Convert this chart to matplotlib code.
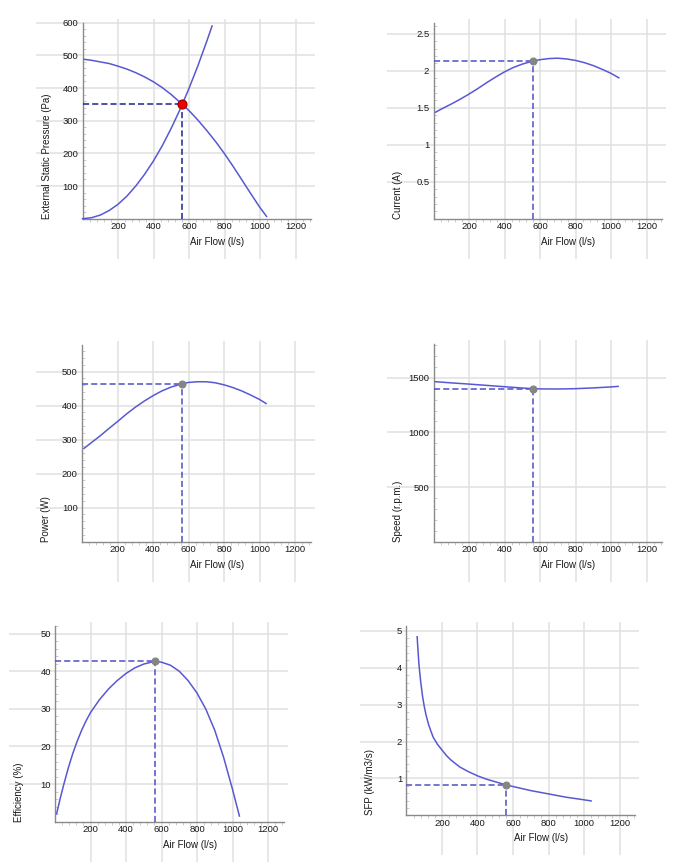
import numpy as np
import matplotlib
matplotlib.use('Agg')
import matplotlib.pyplot as plt

plt.rcParams['font.family'] = ['Liberation Sans', 'DejaVu Sans']

# fan curve and system curve (l/s, Pa)
fan_flow = [8, 50, 100, 150, 200, 250, 300, 350, 400, 450, 500, 550, 562, 600, 650, 700, 750, 800, 850, 900, 950, 1000, 1037]
fan_pressure = [488, 485, 480, 475, 467, 458, 447, 434, 419, 401, 380, 356, 350, 331, 302, 270, 236, 199, 159, 117, 75, 34, 7]
sys_flow = [0, 50, 100, 150, 200, 250, 300, 350, 400, 450, 500, 550, 562, 600, 650, 700, 730]
sys_pressure = [0, 3, 11, 25, 44, 69, 100, 136, 177, 224, 277, 335, 350, 399, 468, 543, 590]

cur_flow = [12, 50, 100, 150, 200, 250, 300, 350, 400, 450, 500, 550, 562, 600, 650, 700, 750, 800, 850, 900, 950, 1000, 1044]
current = [1.44, 1.49, 1.55, 1.615, 1.685, 1.76, 1.84, 1.915, 1.985, 2.045, 2.09, 2.125, 2.13, 2.15, 2.165, 2.17, 2.16, 2.14, 2.11, 2.07, 2.02, 1.965, 1.905]

pow_flow = [11, 50, 100, 150, 200, 250, 300, 350, 400, 450, 500, 550, 562, 600, 650, 700, 750, 800, 850, 900, 950, 1000, 1037]
power = [274, 290, 310, 332, 353, 375, 395, 413, 429, 443, 454, 462, 464, 468, 470, 470, 467, 461, 453, 443, 431, 418, 406]

spd_flow = [10, 100, 200, 300, 400, 500, 562, 600, 700, 800, 900, 1000, 1040]
speed = [1464, 1453, 1442, 1430, 1418, 1406, 1400, 1398, 1397, 1400, 1407, 1416, 1421]

eff_flow = [9, 30, 50, 75, 100, 125, 150, 175, 200, 250, 300, 350, 400, 450, 500, 550, 562, 600, 650, 700, 750, 800, 850, 900, 950, 1000, 1039]
efficiency = [2.1, 6.3, 10.0, 14.3, 18.1, 21.4, 24.3, 26.8, 29.0, 32.4, 35.2, 37.5, 39.4, 40.9, 41.9, 42.5, 42.6, 42.4, 41.6, 40.0, 37.5, 34.2, 29.9, 24.3, 17.1, 8.6, 1.5]

sfp_flow = [60, 65, 70, 75, 80, 90, 100, 110, 125, 140, 150, 175, 200, 225, 250, 300, 350, 400, 450, 500, 562, 600, 700, 800, 900, 1000, 1040]
sfp = [4.84, 4.45, 4.1, 3.85, 3.62, 3.24, 2.95, 2.72, 2.45, 2.25, 2.12, 1.92, 1.77, 1.62, 1.5, 1.31, 1.18, 1.07, 0.98, 0.91, 0.82, 0.78, 0.67, 0.58, 0.49, 0.42, 0.39]

# duty point
duty_flow = 562
duty_pressure = 350
duty_current = 2.13
duty_power = 464
duty_speed = 1400
duty_eff = 42.6
duty_sfp = 0.82

x_ticks = [200, 400, 600, 800, 1000, 1200]

W, H = 686, 867
fig = plt.figure(figsize=(W / 100, H / 100), dpi=100)

CURVE = '#5858d4'
GRID = '#e0e0e0'
SPINE = '#8a8a8a'
TXT = '#1a1a1a'
PT = 72 / 100


def panel(x0, y0, ytop, ymax, yticks, ylabels, ylabel, minor_step):
    sx = 0.1775
    sy = (y0 - ytop) / ymax
    left, right = x0 - 46.5, x0 + 232.5
    top, bottom = ytop - 4, y0 + 40
    ax = fig.add_axes([left / W, 1 - bottom / H, (right - left) / W, (bottom - top) / H])
    ax.set_xlim((left - x0) / sx, (right - x0) / sx)
    ax.set_ylim(-(bottom - y0) / sy, (y0 - top) / sy)
    for s in ['top', 'right']:
        ax.spines[s].set_visible(False)
    for s in ['left', 'bottom']:
        ax.spines[s].set_position(('data', 0))
        ax.spines[s].set_color(SPINE)
        ax.spines[s].set_linewidth(1)
    ax.spines['left'].set_bounds(0, ymax)
    ax.spines['bottom'].set_bounds(0, 1290)
    ax.set_xticks(x_ticks)
    ax.set_xticklabels([str(t) for t in x_ticks])
    ax.set_yticks(yticks)
    ax.set_yticklabels(ylabels)
    ax.set_xticks(np.arange(40, 1290, 40), minor=True)
    ax.set_yticks(np.arange(minor_step, ymax, minor_step), minor=True)
    ax.tick_params(which='major', length=0, labelsize=6.8, labelcolor=TXT)
    ax.tick_params(axis='x', which='major', pad=2.5)
    ax.tick_params(axis='y', which='major', pad=3)
    ax.tick_params(axis='x', which='minor', direction='out', length=2.5, color='#c4c4c4')
    ax.tick_params(axis='y', which='minor', direction='in', length=2.5, color='#c4c4c4')
    ax.grid(True, which='major', color=GRID, lw=1.1)
    ax.set_axisbelow(True)
    ax.annotate('Air Flow (l/s)', xy=(760, 0), xycoords='data', xytext=(0, -23 * PT),
                textcoords='offset points', ha='center', va='center', fontsize=7, color=TXT)
    ax.annotate(ylabel, xy=(0, 0), xycoords='data', xytext=(-36 * PT, 0),
                textcoords='offset points', ha='center', va='bottom', rotation=90,
                fontsize=7, color=TXT)
    return ax


def duty(ax, yv, dash_color, dot_color, dot_edge, ms):
    ax.plot([0, duty_flow], [yv, yv], ls=(0, (4, 2)), color=dash_color, lw=1.1, zorder=3)
    ax.plot([duty_flow, duty_flow], [0, yv], ls=(0, (4, 2)), color=dash_color, lw=1.1, zorder=3)
    ax.plot([duty_flow], [yv], 'o', ms=ms, color=dot_color, mec=dot_edge, mew=0.8, zorder=5)


ax1 = panel(82.5, 218.7, 22.7, 600, [100, 200, 300, 400, 500, 600],
            ['100', '200', '300', '400', '500', '600'], 'External Static Pressure (Pa)', 20)
ax1.plot(fan_flow, fan_pressure, color=CURVE, lw=1.1, zorder=4)
ax1.plot(sys_flow, sys_pressure, color=CURVE, lw=1.1, zorder=4)
duty(ax1, duty_pressure, '#20208f', '#ee0000', '#990000', 6.5)

ax2 = panel(433.5, 218.7, 22.7, 2.65, [0.5, 1, 1.5, 2, 2.5],
            ['0.5', '1', '1.5', '2', '2.5'], 'Current (A)', 0.1)
ax2.plot(cur_flow, current, color=CURVE, lw=1.1, zorder=4)
duty(ax2, duty_current, '#5050c8', '#858585', '#858585', 5)

ax3 = panel(82, 541.7, 345, 578, [100, 200, 300, 400, 500],
            ['100', '200', '300', '400', '500'], 'Power (W)', 20)
ax3.plot(pow_flow, power, color=CURVE, lw=1.1, zorder=4)
duty(ax3, duty_power, '#5050c8', '#858585', '#858585', 5)

ax4 = panel(433.5, 541.7, 344.3, 1806, [500, 1000, 1500],
            ['500', '1000', '1500'], 'Speed (r.p.m.)', 100)
ax4.plot(spd_flow, speed, color=CURVE, lw=1.1, zorder=4)
duty(ax4, duty_speed, '#5050c8', '#858585', '#858585', 5)

ax5 = panel(55, 821.7, 625.7, 52.1, [10, 20, 30, 40, 50],
            ['10', '20', '30', '40', '50'], 'Efficiency (%)', 2)
ax5.plot(eff_flow, efficiency, color=CURVE, lw=1.1, zorder=4)
duty(ax5, duty_eff, '#5050c8', '#858585', '#858585', 5)

ax6 = panel(406.5, 815.3, 625.7, 5.14, [1, 2, 3, 4, 5],
            ['1', '2', '3', '4', '5'], 'SFP (kW/m3/s)', 0.2)
ax6.plot(sfp_flow, sfp, color=CURVE, lw=1.1, zorder=4)
duty(ax6, duty_sfp, '#5050c8', '#858585', '#858585', 5)

fig.savefig('out.png', dpi=100)
